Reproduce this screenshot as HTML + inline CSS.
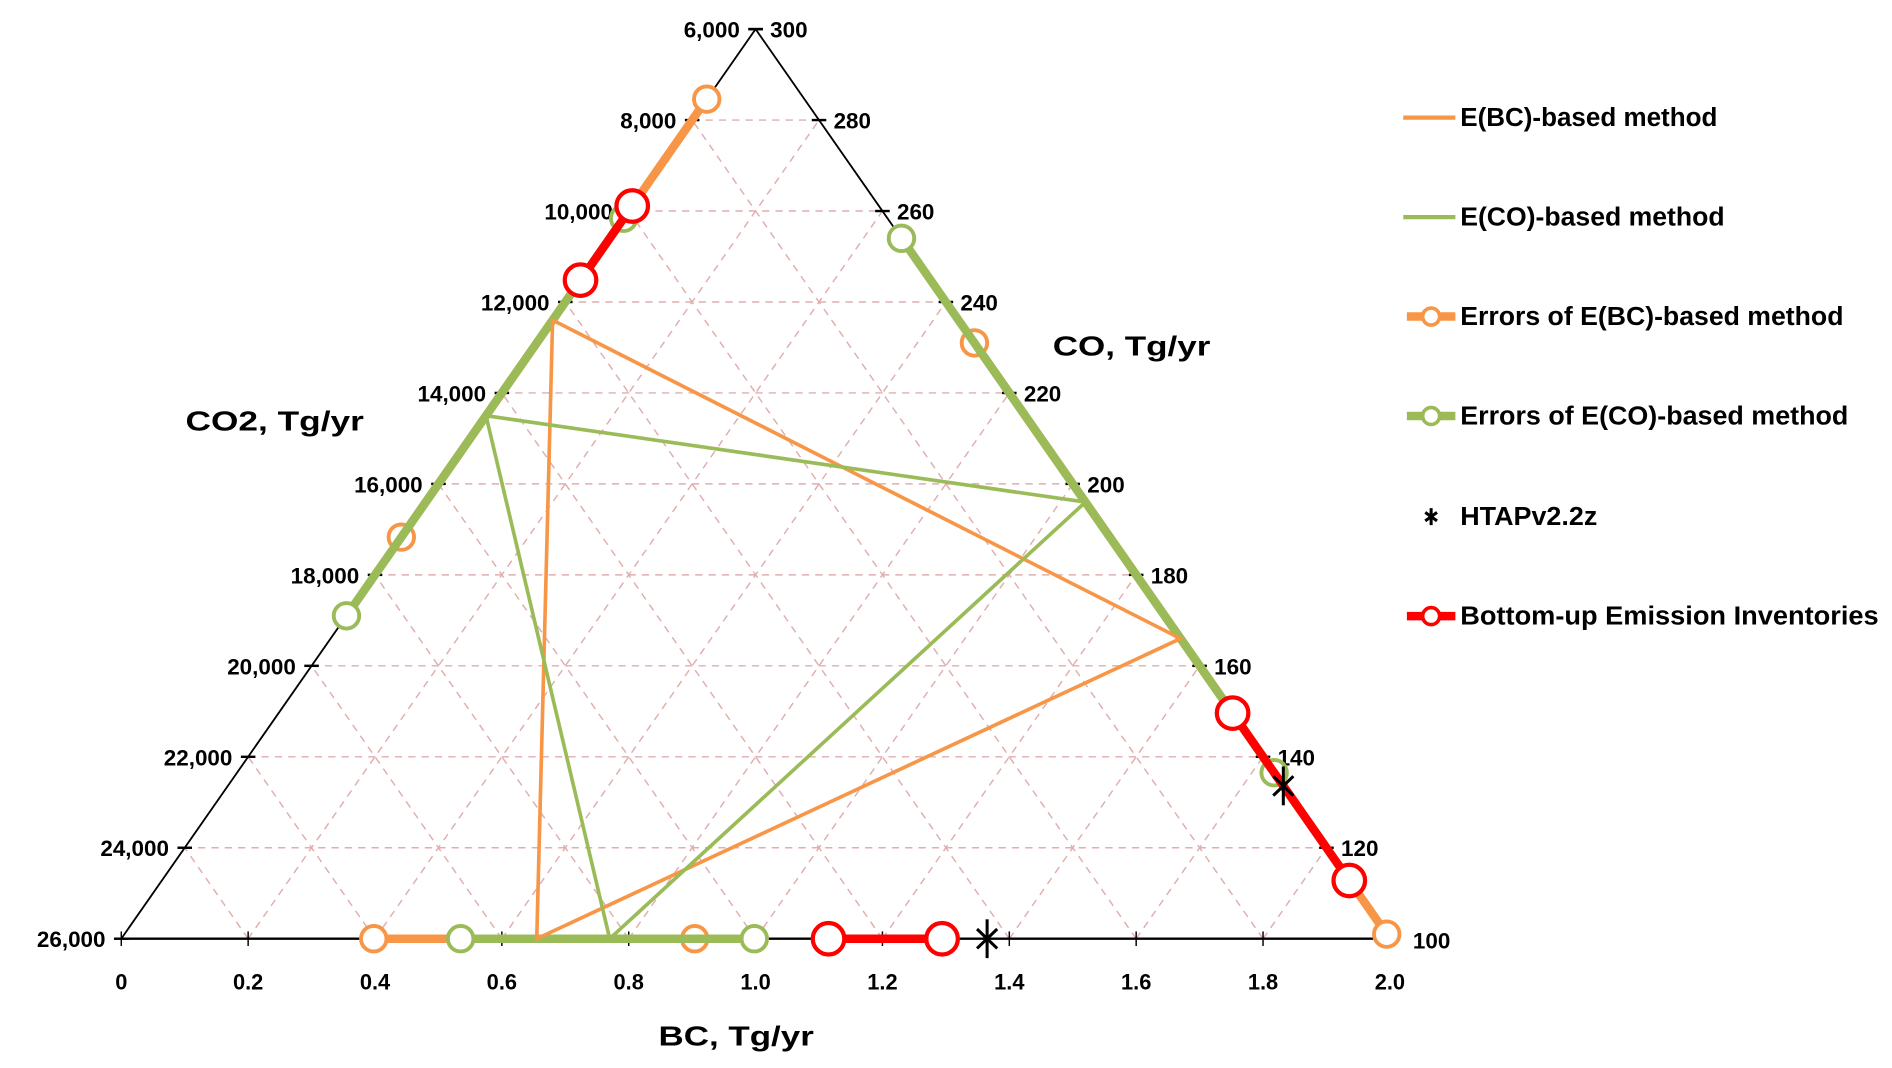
<!DOCTYPE html>
<html><head><meta charset="utf-8"><style>
html,body{margin:0;padding:0;background:#fff;}
svg{display:block;}
text{font-family:"Liberation Sans",Arial,sans-serif;font-weight:bold;fill:#000;}
</style></head><body>
<svg id="chart" width="1892" height="1068" viewBox="0 0 1560 880.6" preserveAspectRatio="none" xmlns="http://www.w3.org/2000/svg">
<g id="grid"></g>
<g id="axes"></g>
<g id="series"></g>
<g id="legend"></g>
</svg>
<script>
// ---- data ----
const bcTicks = [0,0.2,0.4,0.6,0.8,1.0,1.2,1.4,1.6,1.8,2.0];
const bcTickLabels = ["0","0.2","0.4","0.6","0.8","1.0","1.2","1.4","1.6","1.8","2.0"];
const co2Ticks = [26000,24000,22000,20000,18000,16000,14000,12000,10000,8000,6000];
const co2TickLabels = ["26,000","24,000","22,000","20,000","18,000","16,000","14,000","12,000","10,000","8,000","6,000"];
const coTicks = [100,120,140,160,180,200,220,240,260,280,300];
const coTickLabels = ["100","120","140","160","180","200","220","240","260","280","300"];
// method triangles: [E(BC), E(CO)]
const methodLeftCO2 = [12400, 14500];
const methodRightCO = [166, 196];
const methodBottomBC = [0.655, 0.77];
// error ranges: [E(BC) errors, E(CO) errors, bottom-up inventories]
const errLeftCO2 = [[7540,17170],[10160,18900],[9890,11520]];
const errRightCO = [[231,101],[254,136.5],[149.6,112.8]];
const errBottomBC = [[0.398,0.904],[0.535,0.998],[1.115,1.294]];
const htapCO = [133.6];
const htapBC = [1.365];

// ---- geometry ----
const BL=[100,774], BR=[1146,774], AP=[623,24];
function P(s,t){return [BL[0]+s*(BR[0]-BL[0])+t*(AP[0]-BL[0]), BL[1]+s*(BR[1]-BL[1])+t*(AP[1]-BL[1])];}
function bcPt(v){return P(v/2,0);}
function co2Pt(v){return P(0,(26000-v)/20000);}
function coPt(v){const t=(v-100)/200;return P(1-t,t);}
const NS="http://www.w3.org/2000/svg";
function mk(tag,attrs,parent){const e=document.createElementNS(NS,tag);for(const k in attrs)e.setAttribute(k,attrs[k]);parent.appendChild(e);return e;}
const grid=document.getElementById('grid'),axes=document.getElementById('axes'),series=document.getElementById('series'),legend=document.getElementById('legend');
const gs={stroke:"#e0aeae","stroke-width":1.2,"stroke-dasharray":"6,5",fill:"none"};
function line(a,b,st,parent){return mk('line',Object.assign({x1:a[0],y1:a[1],x2:b[0],y2:b[1]},st),parent);}
for(let k=1;k<10;k++){
  const f=k/10;
  let l=line(P(0,f),P(1-f,f),gs,grid);
  
  
  l=line(P(f,0),P(f,1-f),gs,grid);
  
  
  l=line(P(f,0),P(0,f),gs,grid);
  
  
}
// triangle edges
const ax={stroke:"#000","stroke-width":1.5};
let e=line(BL,BR,{stroke:"#000","stroke-width":2},axes);


e=line(BL,AP,ax,axes);


e=line(BR,AP,ax,axes);


bcTicks.forEach((v,i)=>{const p=bcPt(v);
  let t=line([p[0],p[1]-6],[p[0],p[1]+6],{stroke:"#000","stroke-width":1.2},axes);
  
  
  const tx=mk('text',{x:p[0],y:p[1]+42,"font-size":18,"text-anchor":"middle"},axes);tx.textContent=bcTickLabels[i];
  
  
});
co2Ticks.forEach((v,i)=>{const p=co2Pt(v);
  let t=line([p[0]-6,p[1]],[p[0]+6,p[1]],{stroke:"#000","stroke-width":2},axes);
  
  
  const tx=mk('text',{x:p[0]-13,y:p[1]+7,"font-size":18.5,"text-anchor":"end"},axes);tx.textContent=co2TickLabels[i];
  
  
});
coTicks.forEach((v,i)=>{const p=coPt(v);
  let t=line([p[0]-6,p[1]],[p[0]+6,p[1]],{stroke:"#000","stroke-width":2},axes);
  
  
  const tx=mk('text',{x:p[0]+(i==0?19:12),y:p[1]+(i==0?8:7),"font-size":18.5,"text-anchor":"start"},axes);tx.textContent=coTickLabels[i];
  
  
});
let ti=mk('text',{x:153,y:355,"font-size":23,textLength:147,lengthAdjust:"spacingAndGlyphs"},axes);ti.textContent="CO2, Tg/yr";


ti=mk('text',{x:868,y:293,"font-size":23,textLength:130,lengthAdjust:"spacingAndGlyphs"},axes);ti.textContent="CO, Tg/yr";


ti=mk('text',{x:543,y:862,"font-size":23,textLength:128,lengthAdjust:"spacingAndGlyphs"},axes);ti.textContent="BC, Tg/yr";



// ---- series ----
const colors=["#F79646","#9BBB59","#FF0000"];
for(let k=0;k<3;k++){
  const w=7, r=k==2?13:10.5, sw=k==2?3.5:3.2;
  const segs=[[co2Pt(errLeftCO2[k][0]),co2Pt(errLeftCO2[k][1])],[coPt(errRightCO[k][0]),coPt(errRightCO[k][1])],[bcPt(errBottomBC[k][0]),bcPt(errBottomBC[k][1])]];
  const names=['left','right','bottom'];
  segs.forEach((s,j)=>{
    const l=line(s[0],s[1],{stroke:colors[k],"stroke-width":w},series);
    
    
  });
  segs.forEach((s,j)=>s.forEach(p=>{
    const c=mk('circle',{cx:p[0],cy:p[1],r:r,fill:"#fff",stroke:colors[k],"stroke-width":sw},series);
    
    
  }));
  if(k==1){
    for(let m=0;m<2;m++){
      const a=co2Pt(methodLeftCO2[m]),b=coPt(methodRightCO[m]),c=bcPt(methodBottomBC[m]);
      const pg=mk('polygon',{points:[a,b,c].map(p=>p.join(',')).join(' '),fill:"none",stroke:colors[m],"stroke-width":3,"stroke-linejoin":"round"},series);
      
      
    }
  }
}
function star(p,parent){
  const g=mk('g',{},parent);
  
  
  const s=16;
  [90,30,150].forEach(a=>{const r=a*Math.PI/180;line([p[0]-s*Math.cos(r)*0.6,p[1]-s*Math.sin(r)],[p[0]+s*Math.cos(r)*0.6,p[1]+s*Math.sin(r)],{stroke:"#000","stroke-width":2.5},g);});
}
htapCO.forEach(v=>star(coPt(v),series));
htapBC.forEach(v=>star(bcPt(v),series));

// ---- legend ----
const legItems=[["E(BC)-based method",0,"line",212],["E(CO)-based method",1,"line",218],["Errors of E(BC)-based method",0,"err",316],["Errors of E(CO)-based method",1,"err",320],["HTAPv2.2z",-1,"star",113],["Bottom-up Emission Inventories",2,"err",345]];
const legY=[97,179,261,343,426,508];
legItems.forEach((it,i)=>{
  const y=legY[i];
  const g=mk('g',{},legend);
  
  
  if(it[2]=="line"){line([1157,y],[1200,y],{stroke:colors[it[1]],"stroke-width":3.5},g);}
  else if(it[2]=="err"){line([1160,y],[1200,y],{stroke:colors[it[1]],"stroke-width":7},g);mk('circle',{cx:1180,cy:y,r:7,fill:"#fff",stroke:colors[it[1]],"stroke-width":3},g);}
  else {const s=7;[90,30,150].forEach(a=>{const r=a*Math.PI/180;line([1180-s*Math.cos(r)*0.8,y-s*Math.sin(r)],[1180+s*Math.cos(r)*0.8,y+s*Math.sin(r)],{stroke:"#000","stroke-width":2.5},g);});}
  const t=mk('text',{x:1204,y:y+7,"font-size":21,textLength:it[3],lengthAdjust:"spacingAndGlyphs"},g);t.textContent=it[0];
});
</script>
</body></html>
